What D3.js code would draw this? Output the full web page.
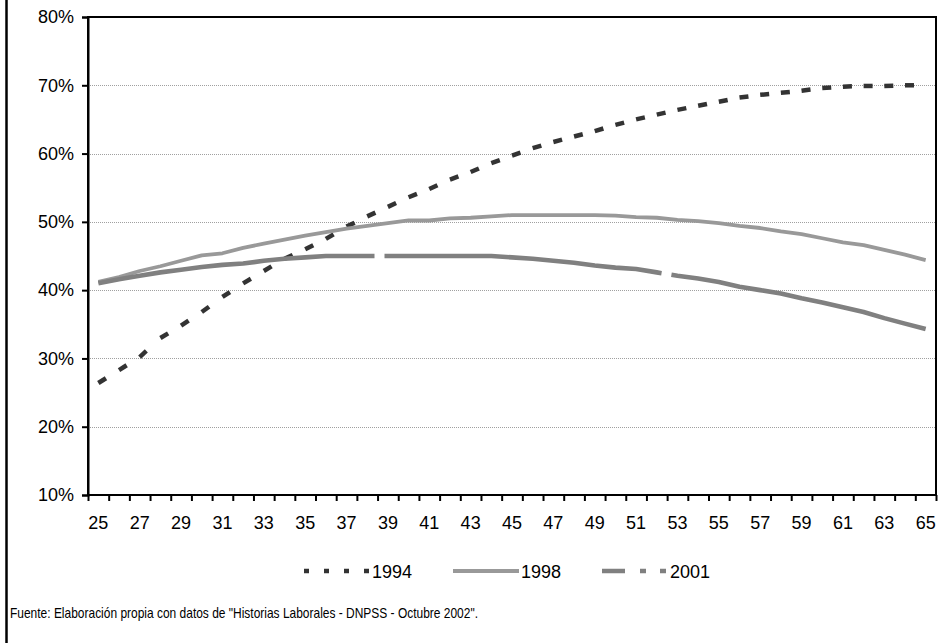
<!DOCTYPE html>
<html>
<head>
<meta charset="utf-8">
<script src="https://cdn.jsdelivr.net/npm/d3@7"></script>
<style>
  html, body { margin: 0; padding: 0; background: #fff; }
  svg { display: block; font-family: "Liberation Sans", Arial, sans-serif; }
</style>
</head>
<body>
<svg id="chart" width="952" height="643"></svg>
<script>
// Ages on the category axis
const ages = d3.range(25, 66);
// Shares by age for each year (percent)
const s1994 = [26.4, 28.3, 30.2, 33.0, 34.8, 36.8, 39.0, 41.0, 42.8, 44.6,
               46.0, 47.5, 49.3, 50.8, 52.2, 53.6, 54.8, 56.2, 57.3, 58.6,
               59.7, 60.8, 61.7, 62.5, 63.3, 64.2, 65.0, 65.7, 66.4, 67.0,
               67.6, 68.2, 68.6, 68.9, 69.2, 69.6, 69.8, 69.9, 69.9, 70.0, 70.0];
const s1998 = [41.2, 41.9, 42.8, 43.5, 44.3, 45.1, 45.4, 46.2, 46.8, 47.4,
               48.0, 48.5, 49.0, 49.4, 49.8, 50.2, 50.2, 50.5, 50.6, 50.8,
               51.0, 51.0, 51.0, 51.0, 51.0, 50.9, 50.7, 50.6, 50.3, 50.1,
               49.8, 49.4, 49.1, 48.6, 48.2, 47.6, 47.0, 46.6, 45.9, 45.2, 44.4];
const s2001 = [41.0, 41.6, 42.1, 42.6, 43.0, 43.4, 43.7, 43.9, 44.3, 44.6,
               44.8, 45.0, 45.0, 45.0, 45.0, 45.0, 45.0, 45.0, 45.0, 45.0,
               44.8, 44.6, 44.3, 44.0, 43.6, 43.3, 43.1, 42.6, 42.1, 41.7,
               41.2, 40.5, 40.0, 39.5, 38.8, 38.2, 37.5, 36.8, 35.9, 35.1, 34.3];
const yTicks = [0.1, 0.2, 0.3, 0.4, 0.5, 0.6, 0.7, 0.8];
const xLabels = d3.range(25, 66, 2);
const seriesNames = ["1994", "1998", "2001"];
const footer = "Fuente: Elaboración propia con datos de \"Historias Laborales - DNPSS - Octubre 2002\".";

const series = [
  { name: seriesNames[0], values: s1994, color: "#333333", width: 4.5, dash: "9,60",  perSegment: true,  legendDash: "5,15" },
  { name: seriesNames[1], values: s1998, color: "#999999", width: 3.8, dash: null,    perSegment: false, legendDash: null },
  { name: seriesNames[2], values: s2001, color: "#808080", width: 4.6, dash: "278,10", perSegment: false, legendDash: "23,15,6,14,6,14" }
];

const svg = d3.select("#chart");
const plot = { left: 88, top: 17, right: 936, bottom: 495 };

const x = d3.scaleBand().domain(ages).range([plot.left, plot.right]).padding(0);
const xEdges = d3.scaleLinear().domain([24.5, 65.5]).range([plot.left, plot.right]);
const y = d3.scaleLinear().domain([0.1, 0.8]).range([plot.bottom, plot.top]);
const cx = a => x(a) + x.bandwidth() / 2;

// Left frame rule
svg.append("line")
  .attr("x1", 6.5).attr("x2", 6.5).attr("y1", 0).attr("y2", 643)
  .attr("stroke", "#000").attr("stroke-width", 2.5);

// Horizontal gridlines
svg.append("g").selectAll("line")
  .data(yTicks.filter(t => t > 0.1 && t < 0.8))
  .join("line")
  .attr("x1", plot.left).attr("x2", plot.right)
  .attr("y1", d => Math.round(y(d)) + 0.5).attr("y2", d => Math.round(y(d)) + 0.5)
  .attr("stroke", "#a0a0a0").attr("stroke-width", 1).attr("stroke-dasharray", "1,1");

// Series lines
const line = d3.line().x((d, i) => cx(ages[i])).y(d => y(d / 100));
series.forEach(s => {
  const g = svg.append("g");
  if (s.perSegment) {
    // dash pattern restarts on each segment
    const segs = d3.range(s.values.length - 1).map(i => [i, i + 1]);
    g.selectAll("line").data(segs).join("line")
      .attr("x1", d => cx(ages[d[0]])).attr("y1", d => y(s.values[d[0]] / 100))
      .attr("x2", d => cx(ages[d[1]])).attr("y2", d => y(s.values[d[1]] / 100))
      .attr("stroke", s.color).attr("stroke-width", s.width)
      .attr("stroke-dasharray", s.dash);
  } else {
    g.append("path").datum(s.values)
      .attr("d", line)
      .attr("fill", "none")
      .attr("stroke", s.color).attr("stroke-width", s.width)
      .attr("stroke-linejoin", "round")
      .attr("stroke-dasharray", s.dash);
  }
});

// Plot frame
svg.append("rect")
  .attr("x", plot.left).attr("y", plot.top)
  .attr("width", plot.right - plot.left).attr("height", plot.bottom - plot.top)
  .attr("fill", "none").attr("stroke", "#000").attr("stroke-width", 2);

// Y axis
const yAxis = svg.append("g").attr("transform", `translate(${plot.left},0)`)
  .call(d3.axisLeft(y).tickValues(yTicks).tickFormat(d3.format(".0%")).tickSize(6).tickPadding(8));
yAxis.select(".domain").attr("stroke-width", 2);
yAxis.selectAll(".tick line").attr("stroke-width", 2);
yAxis.selectAll("text").attr("font-size", 18).attr("fill", "#000")
  .attr("font-family", "Liberation Sans, Arial, sans-serif");

// X axis: ticks on category edges, labels on every other category
const xTickAxis = svg.append("g").attr("transform", `translate(0,${plot.bottom})`)
  .call(d3.axisBottom(xEdges).tickValues(d3.range(24.5, 66, 1)).tickFormat("").tickSize(6));
xTickAxis.select(".domain").remove();
xTickAxis.selectAll(".tick line").attr("stroke-width", 2);

const xLabelAxis = svg.append("g").attr("transform", `translate(0,${plot.bottom})`)
  .call(d3.axisBottom(x).tickValues(xLabels).tickSize(0).tickPadding(21));
xLabelAxis.select(".domain").remove();
xLabelAxis.selectAll("text").attr("font-size", 18).attr("fill", "#000")
  .attr("font-family", "Liberation Sans, Arial, sans-serif");

// Legend
const legendItems = [
  { s: series[0], x1: 304, x2: 370, tx: 372 },
  { s: series[1], x1: 453, x2: 519, tx: 521 },
  { s: series[2], x1: 602, x2: 667, tx: 670 }
];
const legend = svg.append("g");
legendItems.forEach(it => {
  legend.append("line")
    .attr("x1", it.x1).attr("x2", it.x2).attr("y1", 571).attr("y2", 571)
    .attr("stroke", it.s.color).attr("stroke-width", it.s.name === "1998" ? 3.8 : 4.6)
    .attr("stroke-dasharray", it.s.legendDash);
  legend.append("text")
    .attr("x", it.tx).attr("y", 577.5)
    .attr("font-size", 18).attr("fill", "#000")
    .text(it.s.name);
});

// Source note
svg.append("text")
  .attr("x", 10).attr("y", 618)
  .attr("font-size", 14.5).attr("fill", "#000")
  .attr("textLength", 468).attr("lengthAdjust", "spacingAndGlyphs")
  .text(footer);
</script>
</body>
</html>
